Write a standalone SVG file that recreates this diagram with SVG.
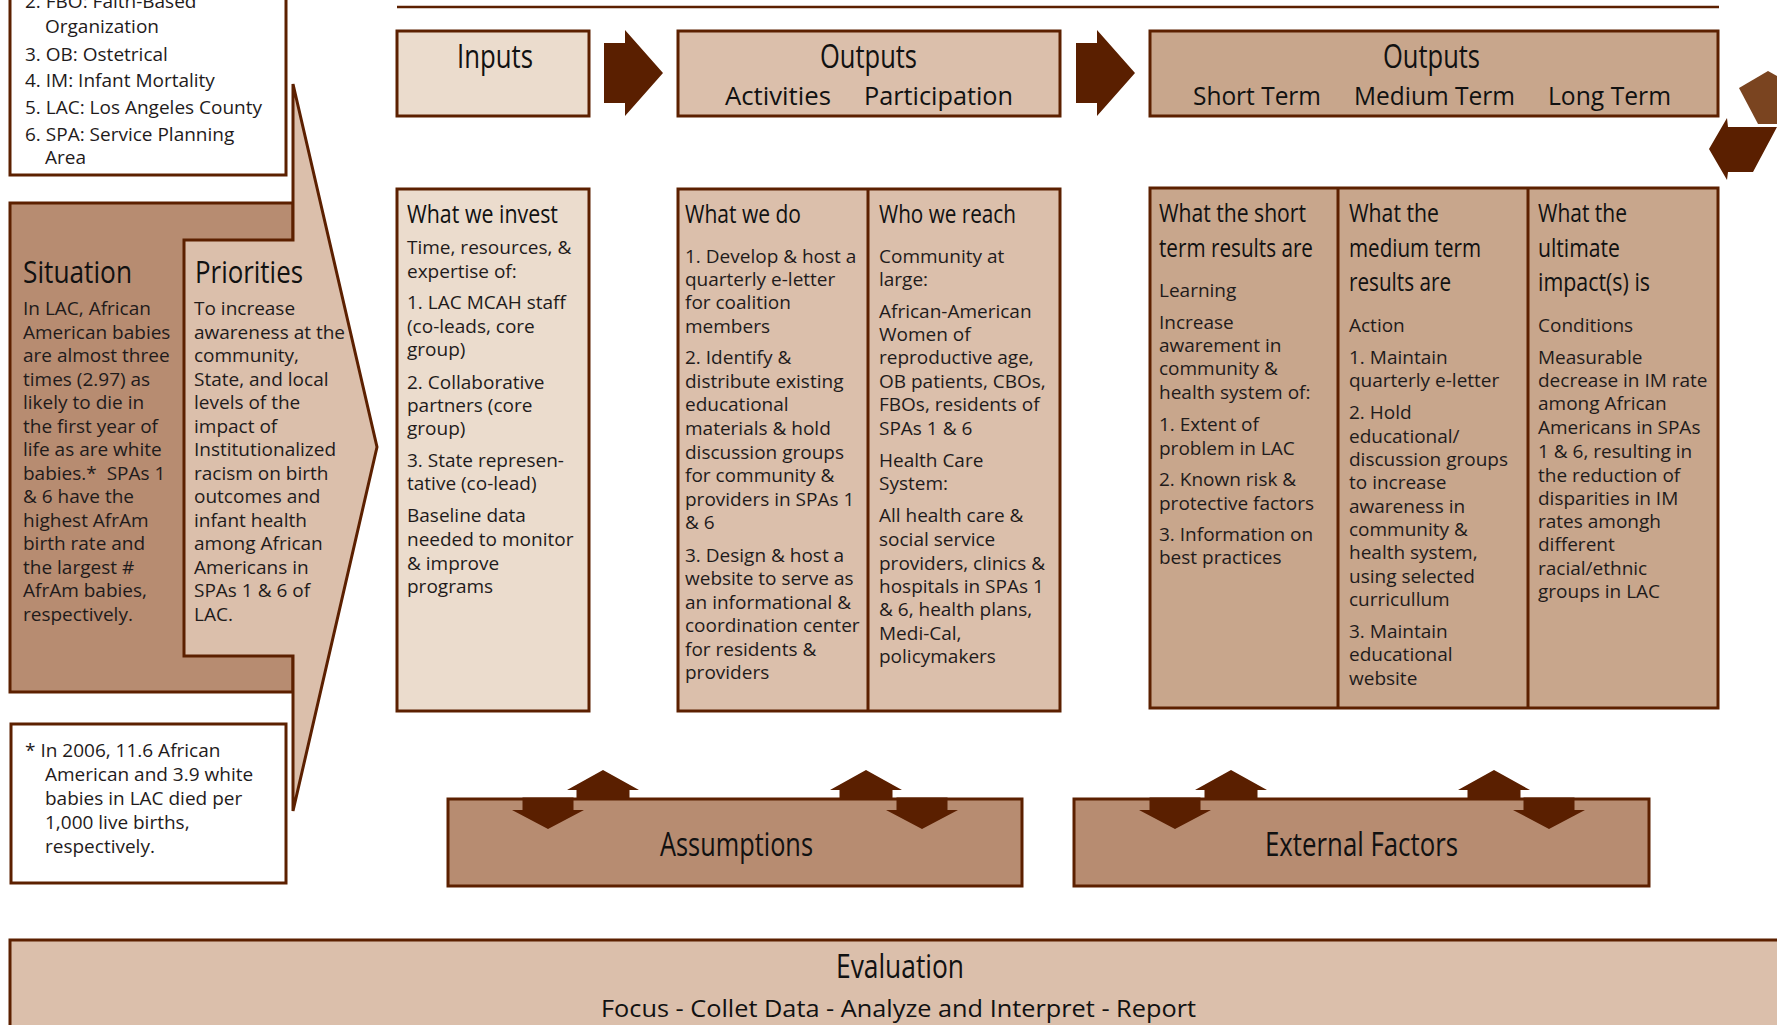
<svg xmlns="http://www.w3.org/2000/svg" width="1777" height="1025" viewBox="0 0 1777 1025">
<style>
.b{stroke:#5c2000;stroke-width:3}
.l1{fill:#ebdccd}.l2{fill:#dbbfab}.l3{fill:#c8a68c}.l4{fill:#b78c71}.w{fill:#ffffff}
.ar{fill:#5a1f00}.ar2{fill:#7a4420}
text{font-family:"Open Sans","Liberation Sans",sans-serif;fill:#1f1b1b}
.t{font-size:19px}
.h1,.h2,.h3,.h4,.h5{font-weight:500;fill:#111}
.h1{font-size:33px}
.h2{font-size:25px}
.h3{font-size:25px}
.h4{font-size:31px}
</style>
<rect width="1777" height="1025" fill="#ffffff"/>
<line x1="397" y1="7" x2="1719" y2="7" stroke="#5c2000" stroke-width="2.5"/>

<g id="legend">
<rect class="b w" x="10" y="-30" width="276" height="205"/>
<text class="t"><tspan x="25" y="8">2. FBO: Faith-Based</tspan><tspan x="45" y="33">Organization</tspan><tspan x="25" y="61">3. OB: Ostetrical</tspan><tspan x="25" y="87">4. IM: Infant Mortality</tspan><tspan x="25" y="114">5. LAC: Los Angeles County</tspan><tspan x="25" y="141">6. SPA: Service Planning</tspan><tspan x="45" y="164">Area</tspan></text>
</g>

<g id="situation">
<rect class="b l4" x="10" y="203" width="283" height="489"/>
<text class="h4" x="23" y="283" textLength="109" lengthAdjust="spacingAndGlyphs">Situation</text>
<text class="t"><tspan x="23" y="315">In LAC, African</tspan><tspan x="23" y="338.5">American babies</tspan><tspan x="23" y="362">are almost three</tspan><tspan x="23" y="385.5">times (2.97) as</tspan><tspan x="23" y="409">likely to die in</tspan><tspan x="23" y="432.5">the first year of</tspan><tspan x="23" y="456">life as are white</tspan><tspan x="23" y="479.5">babies.*&#160; SPAs 1</tspan><tspan x="23" y="503">&amp; 6 have the</tspan><tspan x="23" y="526.5">highest AfrAm</tspan><tspan x="23" y="550">birth rate and</tspan><tspan x="23" y="573.5">the largest #</tspan><tspan x="23" y="597">AfrAm babies,</tspan><tspan x="23" y="620.5">respectively.</tspan></text>
</g>

<g id="priorities">
<polygon class="b l2" points="184,240 293,240 293,84 377,447 293,811 293,656 184,656" stroke-linejoin="miter"/>
<text class="h4" x="195" y="283" textLength="108" lengthAdjust="spacingAndGlyphs">Priorities</text>
<text class="t"><tspan x="194" y="315">To increase</tspan><tspan x="194" y="338.5">awareness at the</tspan><tspan x="194" y="362">community,</tspan><tspan x="194" y="385.5">State, and local</tspan><tspan x="194" y="409">levels of the</tspan><tspan x="194" y="432.5">impact of</tspan><tspan x="194" y="456">Institutionalized</tspan><tspan x="194" y="479.5">racism on birth</tspan><tspan x="194" y="503">outcomes and</tspan><tspan x="194" y="526.5">infant health</tspan><tspan x="194" y="550">among African</tspan><tspan x="194" y="573.5">Americans in</tspan><tspan x="194" y="597">SPAs 1 &amp; 6 of</tspan><tspan x="194" y="620.5">LAC.</tspan></text>
</g>

<g id="footnote">
<rect class="b w" x="11" y="724" width="275" height="159"/>
<text class="t"><tspan x="25" y="757">* In 2006, 11.6 African</tspan><tspan x="45" y="781">American and 3.9 white</tspan><tspan x="45" y="805">babies in LAC died per</tspan><tspan x="45" y="829">1,000 live births,</tspan><tspan x="45" y="853">respectively.</tspan></text>
</g>

<g id="inputs-header">
<rect class="b l1" x="397" y="31" width="192" height="85"/>
<text class="h1" x="457" y="68" textLength="76" lengthAdjust="spacingAndGlyphs">Inputs</text>
</g>

<g id="outputs-header">
<rect class="b l2" x="678" y="31" width="382" height="85"/>
<text class="h1" x="820" y="68" textLength="97" lengthAdjust="spacingAndGlyphs">Outputs</text>
<text class="h2" x="725" y="105" textLength="106" lengthAdjust="spacingAndGlyphs">Activities</text>
<text class="h2" x="864" y="105" textLength="149" lengthAdjust="spacingAndGlyphs">Participation</text>
</g>

<g id="outcomes-header">
<rect class="b l3" x="1150" y="31" width="568" height="85"/>
<text class="h1" x="1383" y="68" textLength="97" lengthAdjust="spacingAndGlyphs">Outputs</text>
<text class="h2" x="1193" y="105" textLength="128" lengthAdjust="spacingAndGlyphs">Short Term</text>
<text class="h2" x="1354" y="105" textLength="161" lengthAdjust="spacingAndGlyphs">Medium Term</text>
<text class="h2" x="1548" y="105" textLength="123" lengthAdjust="spacingAndGlyphs">Long Term</text>
</g>

<g id="inputs-column">
<rect class="b l1" x="397" y="189" width="192" height="522"/>
<text class="h3" x="407" y="223" textLength="151" lengthAdjust="spacingAndGlyphs">What we invest</text>
<text class="t"><tspan x="407" y="254">Time, resources, &amp;</tspan><tspan x="407" y="278">expertise of:</tspan><tspan x="407" y="309">1. LAC MCAH staff</tspan><tspan x="407" y="333">(co-leads, core</tspan><tspan x="407" y="356">group)</tspan><tspan x="407" y="389">2. Collaborative</tspan><tspan x="407" y="412">partners (core</tspan><tspan x="407" y="435">group)</tspan><tspan x="407" y="467">3. State represen-</tspan><tspan x="407" y="490">tative (co-lead)</tspan><tspan x="407" y="522">Baseline data</tspan><tspan x="407" y="546">needed to monitor</tspan><tspan x="407" y="570">&amp; improve</tspan><tspan x="407" y="593">programs</tspan></text>
</g>

<g id="outputs-columns">
<rect class="b l2" x="678" y="189" width="382" height="522"/>
<line class="b" x1="868" y1="189" x2="868" y2="711"/>
<text class="h3" x="685" y="223" textLength="116" lengthAdjust="spacingAndGlyphs">What we do</text>
<text class="t"><tspan x="685" y="263">1. Develop &amp; host a</tspan><tspan x="685" y="286">quarterly e-letter</tspan><tspan x="685" y="309">for coalition</tspan><tspan x="685" y="333">members</tspan><tspan x="685" y="364">2. Identify &amp;</tspan><tspan x="685" y="388">distribute existing</tspan><tspan x="685" y="411">educational</tspan><tspan x="685" y="435">materials &amp; hold</tspan><tspan x="685" y="459">discussion groups</tspan><tspan x="685" y="482">for community &amp;</tspan><tspan x="685" y="506">providers in SPAs 1</tspan><tspan x="685" y="529">&amp; 6</tspan><tspan x="685" y="562">3. Design &amp; host a</tspan><tspan x="685" y="585">website to serve as</tspan><tspan x="685" y="609">an informational &amp;</tspan><tspan x="685" y="632">coordination center</tspan><tspan x="685" y="656">for residents &amp;</tspan><tspan x="685" y="679">providers</tspan></text>
<text class="h3" x="879" y="223" textLength="137" lengthAdjust="spacingAndGlyphs">Who we reach</text>
<text class="t"><tspan x="879" y="263">Community at</tspan><tspan x="879" y="286">large:</tspan><tspan x="879" y="318">African-American</tspan><tspan x="879" y="341">Women of</tspan><tspan x="879" y="364">reproductive age,</tspan><tspan x="879" y="388">OB patients, CBOs,</tspan><tspan x="879" y="411">FBOs, residents of</tspan><tspan x="879" y="435">SPAs 1 &amp; 6</tspan><tspan x="879" y="467">Health Care</tspan><tspan x="879" y="490">System:</tspan><tspan x="879" y="522">All health care &amp;</tspan><tspan x="879" y="546">social service</tspan><tspan x="879" y="570">providers, clinics &amp;</tspan><tspan x="879" y="593">hospitals in SPAs 1</tspan><tspan x="879" y="616">&amp; 6, health plans,</tspan><tspan x="879" y="640">Medi-Cal,</tspan><tspan x="879" y="663">policymakers</tspan></text>
</g>

<g id="outcomes-columns">
<rect class="b l3" x="1150" y="188" width="568" height="520"/>
<line class="b" x1="1338" y1="188" x2="1338" y2="708"/>
<line class="b" x1="1528" y1="188" x2="1528" y2="708"/>
<text class="h3" x="1159" y="222" textLength="147" lengthAdjust="spacingAndGlyphs">What the short</text>
<text class="h3" x="1159" y="257" textLength="154" lengthAdjust="spacingAndGlyphs">term results are</text>
<text class="t"><tspan x="1159" y="297">Learning</tspan><tspan x="1159" y="329">Increase</tspan><tspan x="1159" y="352">awarement in</tspan><tspan x="1159" y="375">community &amp;</tspan><tspan x="1159" y="399">health system of:</tspan><tspan x="1159" y="431">1. Extent of</tspan><tspan x="1159" y="455">problem in LAC</tspan><tspan x="1159" y="486">2. Known risk &amp;</tspan><tspan x="1159" y="510">protective factors</tspan><tspan x="1159" y="541">3. Information on</tspan><tspan x="1159" y="564">best practices</tspan></text>
<text class="h3" x="1349" y="222" textLength="90" lengthAdjust="spacingAndGlyphs">What the</text>
<text class="h3" x="1349" y="257" textLength="132" lengthAdjust="spacingAndGlyphs">medium term</text>
<text class="h3" x="1349" y="291" textLength="102" lengthAdjust="spacingAndGlyphs">results are</text>
<text class="t"><tspan x="1349" y="332">Action</tspan><tspan x="1349" y="364">1. Maintain</tspan><tspan x="1349" y="387">quarterly e-letter</tspan><tspan x="1349" y="419">2. Hold</tspan><tspan x="1349" y="443">educational/</tspan><tspan x="1349" y="466">discussion groups</tspan><tspan x="1349" y="489">to increase</tspan><tspan x="1349" y="513">awareness in</tspan><tspan x="1349" y="536">community &amp;</tspan><tspan x="1349" y="559">health system,</tspan><tspan x="1349" y="583">using selected</tspan><tspan x="1349" y="606">curricullum</tspan><tspan x="1349" y="638">3. Maintain</tspan><tspan x="1349" y="661">educational</tspan><tspan x="1349" y="685">website</tspan></text>
<text class="h3" x="1538" y="222" textLength="89" lengthAdjust="spacingAndGlyphs">What the</text>
<text class="h3" x="1538" y="257" textLength="82" lengthAdjust="spacingAndGlyphs">ultimate</text>
<text class="h3" x="1538" y="291" textLength="112" lengthAdjust="spacingAndGlyphs">impact(s) is</text>
<text class="t"><tspan x="1538" y="332">Conditions</tspan><tspan x="1538" y="364">Measurable</tspan><tspan x="1538" y="387">decrease in IM rate</tspan><tspan x="1538" y="410">among African</tspan><tspan x="1538" y="434">Americans in SPAs</tspan><tspan x="1538" y="458">1 &amp; 6, resulting in</tspan><tspan x="1538" y="482">the reduction of</tspan><tspan x="1538" y="505">disparities in IM</tspan><tspan x="1538" y="528">rates amongh</tspan><tspan x="1538" y="551">different</tspan><tspan x="1538" y="575">racial/ethnic</tspan><tspan x="1538" y="598">groups in LAC</tspan></text>
</g>

<g id="assumptions">
<rect class="b l4" x="448" y="799" width="574" height="87"/>
<text class="h1" x="660" y="856" textLength="153" lengthAdjust="spacingAndGlyphs">Assumptions</text>
</g>

<g id="external-factors">
<rect class="b l4" x="1074" y="799" width="575" height="87"/>
<text class="h1" x="1265" y="856" textLength="193" lengthAdjust="spacingAndGlyphs">External Factors</text>
</g>

<g id="evaluation">
<rect class="b l2" x="10" y="940" width="1790" height="110"/>
<text class="h5" x="836" y="978" font-size="32" textLength="128" lengthAdjust="spacingAndGlyphs">Evaluation</text>
<text class="h5" x="601" y="1017" font-size="24" textLength="595" lengthAdjust="spacingAndGlyphs">Focus - Collet Data - Analyze and Interpret - Report</text>
</g>

<g id="connectors">
<polygon class="ar" points="604,43 625,43 625,30 663,73 625,116 625,103 604,103"/>
<polygon class="ar" points="1076,43 1097,43 1097,30 1135,73 1097,116 1097,103 1076,103"/>
<polygon class="ar2" points="1739,88 1768,71 1777,76 1777,124 1758,124"/>
<polygon class="ar" points="1709,149 1727,118 1728,127 1777,127 1753,172 1728,172 1727,180"/>
<polygon class="ar" points="522.5,797.5 573.5,797.5 573.5,810 584,810 548,829 512,810 522.5,810"/>
<polygon class="ar" points="603,770 639,790 629.5,790 629.5,800 576.5,800 576.5,790 567,790"/>
<polygon class="ar" points="866,770 902,790 892.5,790 892.5,800 839.5,800 839.5,790 830,790"/>
<polygon class="ar" points="896.5,797.5 947.5,797.5 947.5,810 958,810 922,829 886,810 896.5,810"/>
<polygon class="ar" points="1149.5,797.5 1200.5,797.5 1200.5,810 1211,810 1175,829 1139,810 1149.5,810"/>
<polygon class="ar" points="1231,770 1267,790 1257.5,790 1257.5,800 1204.5,800 1204.5,790 1195,790"/>
<polygon class="ar" points="1494,770 1530,790 1520.5,790 1520.5,800 1467.5,800 1467.5,790 1458,790"/>
<polygon class="ar" points="1523.5,797.5 1574.5,797.5 1574.5,810 1585,810 1549,829 1513,810 1523.5,810"/>
</g>
</svg>
